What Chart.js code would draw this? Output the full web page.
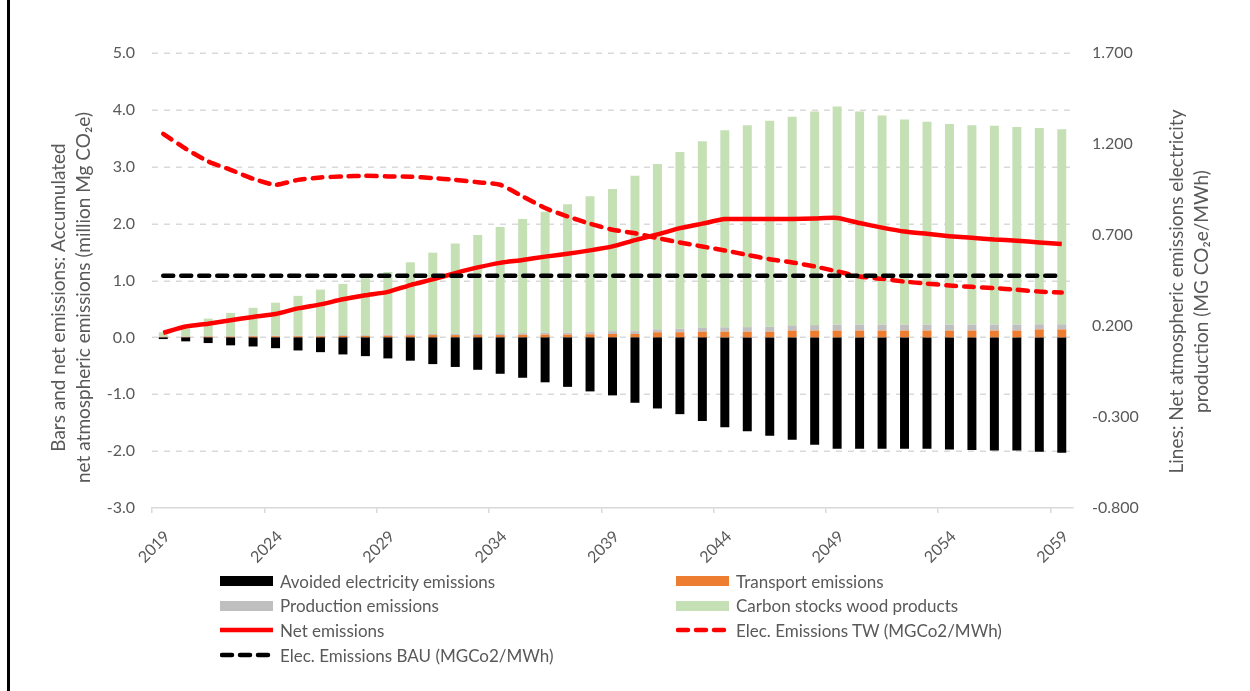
<!DOCTYPE html>
<html>
<head>
<meta charset="utf-8">
<script src="https://cdn.jsdelivr.net/npm/chart.js@4.4.1/dist/chart.umd.min.js"></script>
<style>
  body { margin: 0; background: #fff; }
  #wrap { position: relative; width: 1250px; height: 691px; font-family: Lato, "Open Sans", sans-serif; }
  #frame { position: absolute; left: 7px; top: 0; width: 3px; height: 691px; background: #000; }
  .item { position: absolute; display: flex; align-items: center; height: 20px; font-size: 17px; color: #595959; white-space: nowrap; }
  .item .sw { width: 53px; height: 10px; margin-right: 7px; }
  .item svg { margin-right: 7px; }
</style>
</head>
<body>
<div id="wrap">
  <canvas id="myChart" width="1250" height="691"></canvas>
  <div id="frame"></div>
  <div id="legend"></div>
</div>
<script>
// DATA

const years = ["2019","2020","2021","2022","2023","2024","2025","2026","2027","2028",
  "2029","2030","2031","2032","2033","2034","2035","2036","2037","2038",
  "2039","2040","2041","2042","2043","2044","2045","2046","2047","2048",
  "2049","2050","2051","2052","2053","2054","2055","2056","2057","2058","2059"];

const avoidedElec = [-0.03,-0.07,-0.10,-0.14,-0.16,-0.19,-0.23,-0.26,-0.30,-0.33,
  -0.37,-0.41,-0.47,-0.52,-0.57,-0.64,-0.71,-0.79,-0.87,-0.95,
  -1.02,-1.15,-1.25,-1.35,-1.47,-1.58,-1.65,-1.73,-1.80,-1.89,
  -1.96,-1.96,-1.96,-1.96,-1.96,-1.97,-1.98,-1.99,-1.99,-2.01,-2.03];

const transport = [0.01,0.01,0.015,0.015,0.02,0.02,0.02,0.02,0.025,0.025,
  0.03,0.035,0.04,0.04,0.04,0.04,0.045,0.05,0.05,0.055,
  0.06,0.06,0.09,0.09,0.10,0.10,0.10,0.10,0.12,0.12,
  0.12,0.12,0.12,0.12,0.12,0.12,0.12,0.12,0.12,0.14,0.14];

const production = [0.005,0.005,0.01,0.01,0.01,0.01,0.01,0.015,0.015,0.015,
  0.02,0.02,0.02,0.025,0.025,0.03,0.03,0.035,0.035,0.04,
  0.05,0.05,0.05,0.06,0.07,0.075,0.08,0.085,0.09,0.095,
  0.105,0.105,0.105,0.105,0.105,0.105,0.105,0.105,0.105,0.09,0.09];

const carbonStocks = [0.075,0.195,0.305,0.405,0.49,0.58,0.70,0.805,0.90,1.00,
  1.10,1.265,1.43,1.585,1.735,1.87,2.005,2.125,2.255,2.385,
  2.50,2.73,2.91,3.11,3.28,3.465,3.55,3.625,3.67,3.755,
  3.835,3.745,3.675,3.605,3.565,3.525,3.505,3.495,3.475,3.45,3.43];

const netEmissions = [0.08,0.19,0.24,0.30,0.36,0.41,0.51,0.58,0.67,0.74,
  0.80,0.92,1.02,1.13,1.23,1.31,1.36,1.42,1.47,1.53,
  1.60,1.71,1.81,1.92,2.00,2.08,2.08,2.08,2.08,2.09,
  2.10,2.01,1.93,1.86,1.82,1.78,1.75,1.72,1.70,1.67,1.64];

const elecTW = [1.256,1.174,1.104,1.058,1.009,0.976,1.003,1.016,1.022,1.025,
  1.022,1.020,1.013,1.003,0.990,0.976,0.912,0.848,0.802,0.762,
  0.729,0.710,0.683,0.659,0.637,0.615,0.591,0.567,0.549,0.527,
  0.500,0.472,0.459,0.444,0.433,0.422,0.415,0.408,0.399,0.389,0.384];

const elecBAU = [0.476,0.476,0.476,0.476,0.476,0.476,0.476,0.476,0.476,0.476,
  0.476,0.476,0.476,0.476,0.476,0.476,0.476,0.476,0.476,0.476,
  0.476,0.476,0.476,0.476,0.476,0.476,0.476,0.476,0.476,0.476,
  0.476,0.476,0.476,0.476,0.476,0.476,0.476,0.476,0.476,0.476,0.476];

const leftTicks = { min: -3, max: 5, step: 1 };
const rightTicks = { min: -0.8, max: 1.7, step: 0.5 };

const leftTitle = ["Bars and net emissions: Accumulated", "net atmospheric emissions (million Mg CO\u2082e)"];
const rightTitle = ["Lines: Net atmospheric emissions electricity", "production (MG CO\u2082e/MWh)"];

const grey = "#595959";
const gridGrey = "#D9D9D9";

// DASHED HORIZONTAL GRID (one line per left-axis tick)
const dashedGrid = {
  id: "dashedGrid",
  beforeDatasetsDraw(chart) {
    const { ctx, chartArea, scales } = chart;
    ctx.save();
    ctx.strokeStyle = gridGrey;
    ctx.lineWidth = 1.5;
    ctx.setLineDash([6, 6]);
    scales.y.ticks.forEach((t) => {
      const py = Math.round(scales.y.getPixelForValue(t.value)) + 0.25;
      if (py > chartArea.bottom - 1) return;
      ctx.beginPath();
      ctx.moveTo(chartArea.left, py);
      ctx.lineTo(chartArea.right, py);
      ctx.stroke();
    });
    ctx.restore();
  },
};

// AXIS TITLES (both read bottom to top)
const axisTitles = {
  id: "axisTitles",
  afterDraw(chart) {
    const { ctx, chartArea } = chart;
    const midY = (chartArea.top + chartArea.bottom) / 2;
    function drawLines(lines, x, y) {
      ctx.save();
      ctx.translate(x, y);
      ctx.rotate(-Math.PI / 2);
      lines.forEach((t, i) => ctx.fillText(t, 0, i * 25));
      ctx.restore();
    }
    ctx.save();
    ctx.fillStyle = grey;
    ctx.font = "19px Lato";
    ctx.textAlign = "center";
    ctx.textBaseline = "middle";
    drawLines(leftTitle, chartArea.left - 93, midY + 17);
    drawLines(rightTitle, chartArea.right + 104, midY + 11);
    ctx.restore();
  },
};

const ctx = document.getElementById("myChart");

const chart = new Chart(ctx, {
  type: "bar",
  data: {
    labels: years,
    datasets: [
      { label: "Avoided electricity emissions", data: avoidedElec, backgroundColor: "#000000", stack: "s", order: 4 },
      { label: "Transport emissions", data: transport, backgroundColor: "#ED7D31", stack: "s", order: 4 },
      { label: "Production emissions", data: production, backgroundColor: "#BFBFBF", stack: "s", order: 4 },
      { label: "Carbon stocks wood products", data: carbonStocks, backgroundColor: "#C5E0B4", stack: "s", order: 4 },
      { type: "line", label: "Net emissions", data: netEmissions, yAxisID: "y",
        borderColor: "#FF0000", borderWidth: 4.5, pointRadius: 0, tension: 0.2, order: 3 },
      { type: "line", label: "Elec. Emissions TW (MGCo2/MWh)", data: elecTW, yAxisID: "y1",
        borderColor: "#FF0000", borderWidth: 4.5, borderDash: [10, 8], borderCapStyle: "round",
        pointRadius: 0, tension: 0.2, order: 2 },
      { type: "line", label: "Elec. Emissions BAU (MGCo2/MWh)", data: elecBAU, yAxisID: "y1",
        borderColor: "#000000", borderWidth: 4.5, borderDash: [10, 8], borderCapStyle: "round",
        pointRadius: 0, tension: 0, order: 1 },
    ],
  },
  options: {
    responsive: false,
    animation: false,
    devicePixelRatio: 1,
    layout: { padding: { left: 0, right: 0, top: 53, bottom: 123 } },
    datasets: { bar: { categoryPercentage: 1, barPercentage: 0.4 } },
    plugins: { legend: { display: false }, tooltip: { enabled: false } },
    scales: {
      x: {
        stacked: true,
        afterFit: (s) => { s.height = 60; },
        grid: {
          drawOnChartArea: false,
          drawTicks: true,
          tickLength: 5,
          lineWidth: 1.5,
          color: (c) => (c.index % 5 === 0 ? gridGrey : "rgba(0,0,0,0)"),
        },
        border: { display: true, color: gridGrey, width: 1.5 },
        ticks: {
          autoSkip: false,
          minRotation: 45,
          maxRotation: 45,
          padding: 14,
          labelOffset: 4,
          color: grey,
          font: { family: "Lato", size: 16 },
          callback: function (v, i) { return i % 5 === 0 ? this.getLabelForValue(v) : ""; },
        },
      },
      y: {
        stacked: true,
        position: "left",
        min: leftTicks.min,
        max: leftTicks.max,
        afterFit: (s) => { s.width = 152; },
        grid: { display: false, drawTicks: false },
        border: { display: false },
        ticks: {
          stepSize: leftTicks.step,
          padding: 17,
          color: grey,
          font: { family: "Lato", size: 16 },
          callback: (v) => v.toFixed(1),
        },
      },
      y1: {
        position: "right",
        min: rightTicks.min,
        max: rightTicks.max,
        afterFit: (s) => { s.width = 177; },
        grid: { display: false, drawOnChartArea: false, drawTicks: false },
        border: { display: false },
        ticks: {
          stepSize: rightTicks.step,
          padding: 19,
          color: grey,
          font: { family: "Lato", size: 16 },
          callback: (v) => v.toFixed(3),
        },
      },
    },
  },
  plugins: [dashedGrid, axisTitles],
});

// LEGEND (two columns like the original)
const legendCols = [220, 676];
const legendTop = 571;
const legendRow = 24.7;
const legendBox = document.getElementById("legend");

chart.data.datasets.forEach((ds, i) => {
  const item = document.createElement("div");
  item.className = "item";
  item.style.left = legendCols[i % 2] + "px";
  item.style.top = (legendTop + Math.floor(i / 2) * legendRow) + "px";
  if (ds.type === "line") {
    const dash = ds.borderDash ? 'stroke-dasharray="10 8" stroke-linecap="round"' : "";
    const x1 = ds.borderDash ? 2 : 0;
    item.innerHTML = '<svg width="53" height="10"><line x1="' + x1 + '" y1="5" x2="' + (ds.borderDash ? 51 : 53) +
      '" y2="5" stroke="' + ds.borderColor + '" stroke-width="4.5" ' + dash + '/></svg>';
  } else {
    item.innerHTML = '<div class="sw" style="background:' + ds.backgroundColor + '"></div>';
  }
  const txt = document.createElement("span");
  txt.textContent = ds.label;
  item.appendChild(txt);
  legendBox.appendChild(item);
});
</script>
</body>
</html>
